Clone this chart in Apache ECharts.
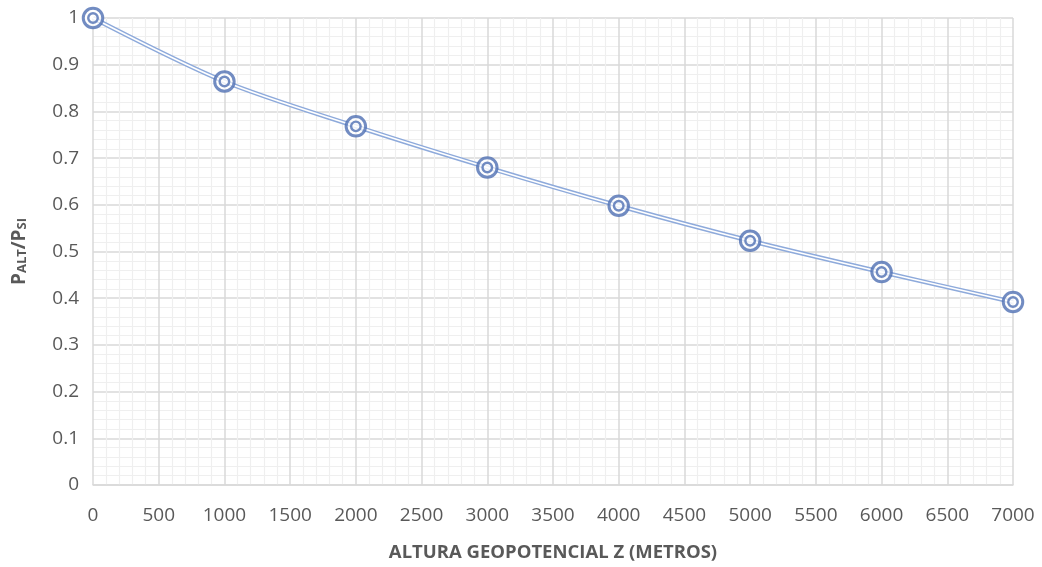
<!DOCTYPE html>
<html>
<head>
<meta charset="utf-8">
<script src="https://cdn.jsdelivr.net/npm/echarts@6/dist/echarts.min.js"></script>
<style>
  html, body { margin: 0; padding: 0; background: #fff; }
  #chart { width: 1042px; height: 567px; }
</style>
</head>
<body>
<div id="chart"></div>
<script>
// Pressure ratio vs geopotential altitude
const altitudes = [0, 1000, 2000, 3000, 4000, 5000, 6000, 7000];
const pressureRatio = [1.0, 0.864, 0.768, 0.680, 0.598, 0.523, 0.456, 0.392];

const xTitle = 'ALTURA GEOPOTENCIAL Z (METROS)';
const yTitleParts = ['P', 'ALT', '/P', 'SI'];

const lineBlue = '#8eaadb';
const markBlue = '#4f6fb3';
const FONT = '"Open Sans", "Noto Sans", sans-serif';

const points = altitudes.map((x, i) => [x, pressureRatio[i]]);

const chart = echarts.init(document.getElementById('chart'), null, { renderer: 'canvas' });
chart.setOption({
  animation: false,
  backgroundColor: '#fff',
  grid: { left: 93, right: 29, top: 18, bottom: 82, outerBoundsMode: 'none', containLabel: false },
  xAxis: {
    type: 'value',
    min: 0, max: 7000, interval: 500,
    axisLine: { show: true, lineStyle: { color: '#d9d9d9', width: 1.5 } },
    axisTick: { show: false },
    axisLabel: { color: '#595959', fontSize: 19, fontFamily: FONT, margin: 21, formatter: v => String(v) },
    splitLine: { show: true, lineStyle: { color: '#d9d9d9', width: 1.5 } },
    minorTick: { show: false, splitNumber: 5 },
    minorSplitLine: { show: true, lineStyle: { color: '#efefef', width: 1.2 } },
    name: xTitle,
    nameLocation: 'middle',
    nameGap: 58,
    nameTextStyle: { color: '#595959', fontSize: 18.5, fontWeight: 'bold', fontFamily: FONT }
  },
  yAxis: {
    type: 'value',
    min: 0, max: 1, interval: 0.1,
    axisLine: { show: false },
    axisTick: { show: false },
    axisLabel: { color: '#595959', fontSize: 19, fontFamily: FONT, margin: 14 },
    splitLine: { show: true, lineStyle: { color: '#d9d9d9', width: 1.5 } },
    minorTick: { show: false, splitNumber: 5 },
    minorSplitLine: { show: true, lineStyle: { color: '#efefef', width: 1.2 } },
    name: '{a|' + yTitleParts[0] + '}{s|' + yTitleParts[1] + '}{a|' + yTitleParts[2] + '}{s|' + yTitleParts[3] + '}',
    nameLocation: 'middle',
    nameGap: 64,
    nameRotate: 90,
    nameTextStyle: {
      color: '#595959', fontFamily: FONT, fontWeight: 'bold',
      rich: {
        a: { fontSize: 19, fontWeight: 'bold', color: '#595959', fontFamily: FONT, verticalAlign: 'bottom', lineHeight: 26 },
        s: { fontSize: 13, fontWeight: 'bold', color: '#595959', fontFamily: FONT, verticalAlign: 'bottom', lineHeight: 26, padding: [7, 0, 0, 0] }
      }
    }
  },
  series: [
    {
      type: 'line', data: points, smooth: 0.3, symbol: 'none',
      lineStyle: { color: lineBlue, width: 4.5 }, z: 2
    },
    {
      type: 'line', data: points, smooth: 0.3, symbol: 'none',
      lineStyle: { color: '#ffffff', width: 1.6 }, z: 3
    },
    {
      type: 'scatter', data: points, symbol: 'circle', symbolSize: 19.5,
      itemStyle: { color: 'rgba(255,255,255,0.85)', borderColor: markBlue, borderWidth: 3 }, z: 4
    },
    {
      type: 'scatter', data: points, symbol: 'circle', symbolSize: 9.5,
      itemStyle: { color: 'rgba(255,255,255,0.6)', borderColor: markBlue, borderWidth: 2.4 }, z: 5
    }
  ]
});
</script>
</body>
</html>
